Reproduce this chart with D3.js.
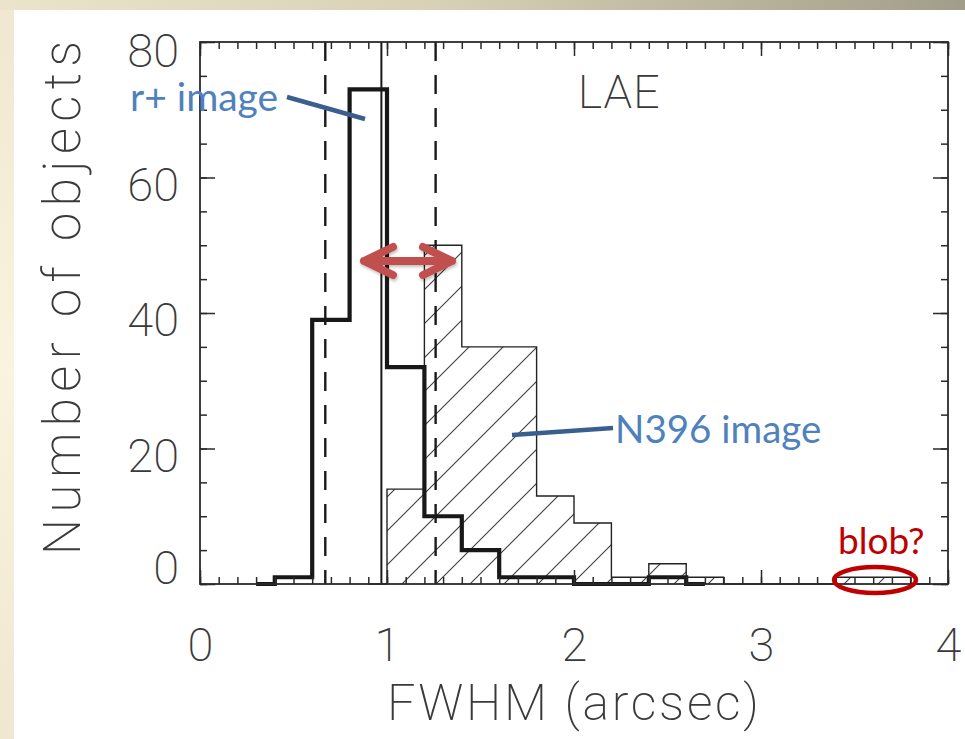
<!DOCTYPE html>
<html>
<head>
<meta charset="utf-8">
<script src="https://cdn.jsdelivr.net/npm/d3@7"></script>
<style>
  html, body { margin: 0; padding: 0; background: #fff; }
  svg { display: block; }
  .tick text { font-family: Roboto, "DejaVu Sans", sans-serif; font-weight: 200; fill: #3a3a3a; }
</style>
</head>
<body>
<svg id="chart" width="965" height="739"></svg>
<script>
// FWHM histograms of LAE candidates: broad-band r+ vs narrow-band N396
const rBinCenters = [0.3, 0.5, 0.7, 0.9, 1.1, 1.3, 1.5, 1.7, 1.9, 2.1, 2.3, 2.5, 2.7];
const rCounts     = [0,   1,   39,  73,  32,  10,  5,   1,   1,   0,   0,   1,   0];

const nBinCenters = [0.9, 1.1, 1.3, 1.5, 1.7, 1.9, 2.1, 2.3, 2.5, 2.7, 2.9, 3.1, 3.3, 3.5, 3.7, 3.9];
const nCounts     = [0,   14,  50,  35,  35,  13,  9,   1,   3,   1,   0,   0,   0,   1,   1,   0];

// reference lines: r+ median and its spread
const medianLine = [0.97];
const spreadLines = [0.67, 1.26];

const xMajor = [0, 1, 2, 3, 4];
const xMinor = d3.range(0, 41).map(i => i / 10);
const yMajor = [0, 20, 40, 60, 80];
const yMinor = d3.range(0, 81, 5);

const xTitle = "FWHM (arcsec)";
const yTitle = "Number of objects";
const panelLabel = "LAE";

const svg = d3.select("#chart");
const W = 965, H = 739;
const margin = { left: 200, right: 17, top: 42, bottom: 155 };

const x = d3.scaleLinear().domain([0, 4]).range([margin.left, W - margin.right]);
const y = d3.scaleLinear().domain([0, 80]).range([H - margin.bottom, margin.top]);

// ---- slide background ----
const defs = svg.append("defs");
const topGrad = defs.append("linearGradient").attr("id", "topBand").attr("x1", 0).attr("x2", 1).attr("y1", 0).attr("y2", 0);
topGrad.append("stop").attr("offset", 0).attr("stop-color", "#ece4ca");
topGrad.append("stop").attr("offset", 0.45).attr("stop-color", "#d9d1b6");
topGrad.append("stop").attr("offset", 1).attr("stop-color", "#a29d8a");
const leftGrad = defs.append("linearGradient").attr("id", "leftBand").attr("x1", 0).attr("x2", 0).attr("y1", 0).attr("y2", 1);
leftGrad.append("stop").attr("offset", 0).attr("stop-color", "#efe7cf");
leftGrad.append("stop").attr("offset", 0.5).attr("stop-color", "#faf3df");
leftGrad.append("stop").attr("offset", 1).attr("stop-color", "#efe7d0");

svg.append("rect").attr("width", W).attr("height", H).attr("fill", "#ffffff");
svg.append("rect").attr("x", 0).attr("y", 0).attr("width", 14).attr("height", H).attr("fill", "url(#leftBand)");
svg.append("rect").attr("x", 0).attr("y", 0).attr("width", W).attr("height", 10).attr("fill", "url(#topBand)");

// hatch pattern for the N396 histogram
const hs = 34;
const hatch = defs.append("pattern").attr("id", "hatch")
  .attr("patternUnits", "userSpaceOnUse").attr("width", hs).attr("height", hs);
hatch.append("path")
  .attr("d", `M0,${hs} L${hs},0 M-2,2 L2,-2 M${hs - 2},${hs + 2} L${hs + 2},${hs - 2}`)
  .attr("stroke", "#3c3c3c").attr("stroke-width", 1.1);

// ---- histograms ----
const nPts = nBinCenters.map((c, i) => [c, nCounts[i]]);
const rPts = rBinCenters.map((c, i) => [c, rCounts[i]]);

const stepArea = d3.area().curve(d3.curveStep)
  .x(d => x(d[0])).y0(y(0)).y1(d => y(d[1]));
const stepLine = d3.line().curve(d3.curveStep)
  .x(d => x(d[0])).y(d => y(d[1]));

svg.append("path").attr("d", stepArea(nPts)).attr("fill", "url(#hatch)");
svg.append("path").attr("d", stepLine(nPts))
  .attr("fill", "none").attr("stroke", "#222").attr("stroke-width", 1.4);

// vertical guides
svg.selectAll(".spread").data(spreadLines).join("line")
  .attr("x1", d => x(d)).attr("x2", d => x(d))
  .attr("y1", y(80)).attr("y2", y(0))
  .attr("stroke", "#1a1a1a").attr("stroke-width", 2.4)
  .attr("stroke-dasharray", "19,14");
svg.selectAll(".median").data(medianLine).join("line")
  .attr("x1", d => x(d)).attr("x2", d => x(d))
  .attr("y1", y(80)).attr("y2", y(0))
  .attr("stroke", "#1a1a1a").attr("stroke-width", 2);

svg.append("path").attr("d", stepLine(rPts))
  .attr("fill", "none").attr("stroke", "#181818").attr("stroke-width", 4.2)
  .attr("stroke-linejoin", "miter");

// ---- axes (ticks point inward on all four sides) ----
const axisColor = "#2a2a2a";
function styleAxis(g) {
  g.select(".domain").remove();
  g.selectAll(".tick line").attr("stroke", axisColor).attr("stroke-width", 1.5);
}

svg.append("g").attr("transform", `translate(0,${y(0)})`)
  .call(d3.axisBottom(x).tickValues(xMinor).tickSize(-7).tickFormat(""))
  .call(styleAxis);
const xAx = svg.append("g").attr("transform", `translate(0,${y(0)})`)
  .call(d3.axisBottom(x).tickValues(xMajor).tickSize(-14).tickPadding(44).tickFormat(d3.format("d")))
  .call(styleAxis);
xAx.selectAll(".tick text").attr("font-size", 47);

svg.append("g").attr("transform", `translate(0,${y(80)})`)
  .call(d3.axisTop(x).tickValues(xMinor).tickSize(-7).tickFormat(""))
  .call(styleAxis);
svg.append("g").attr("transform", `translate(0,${y(80)})`)
  .call(d3.axisTop(x).tickValues(xMajor).tickSize(-14).tickFormat(""))
  .call(styleAxis);

svg.append("g").attr("transform", `translate(${x(0)},0)`)
  .call(d3.axisLeft(y).tickValues(yMinor).tickSize(-7).tickFormat(""))
  .call(styleAxis);
const yAx = svg.append("g").attr("transform", `translate(${x(0)},0)`)
  .call(d3.axisLeft(y).tickValues(yMajor).tickSize(-15).tickPadding(21).tickFormat(d3.format("d")))
  .call(styleAxis);
yAx.selectAll(".tick text").attr("font-size", 47)
  .attr("dy", d => d === 80 ? "0.52em" : d === 0 ? "-0.02em" : "0.48em");

svg.append("g").attr("transform", `translate(${x(4)},0)`)
  .call(d3.axisRight(y).tickValues(yMinor).tickSize(-7).tickFormat(""))
  .call(styleAxis);
svg.append("g").attr("transform", `translate(${x(4)},0)`)
  .call(d3.axisRight(y).tickValues(yMajor).tickSize(-15).tickFormat(""))
  .call(styleAxis);

// plot frame
svg.append("rect")
  .attr("x", x(0)).attr("y", y(80))
  .attr("width", x(4) - x(0)).attr("height", y(0) - y(80))
  .attr("fill", "none").attr("stroke", axisColor).attr("stroke-width", 1.8);

// ---- titles ----
const thinFont = "Roboto, 'DejaVu Sans', sans-serif";
svg.append("text")
  .attr("x", (x(0) + x(4)) / 2 - 1).attr("y", 720)
  .attr("text-anchor", "middle")
  .attr("font-family", thinFont).attr("font-weight", 200)
  .attr("font-size", 50).attr("fill", "#3a3a3a")
  .attr("textLength", 372).attr("lengthAdjust", "spacing")
  .text(xTitle);

svg.append("text")
  .attr("transform", `translate(80,${(y(0) + y(80)) / 2 - 15}) rotate(-90)`)
  .attr("text-anchor", "middle")
  .attr("font-family", thinFont).attr("font-weight", 200)
  .attr("font-size", 51).attr("fill", "#3a3a3a")
  .attr("textLength", 514).attr("lengthAdjust", "spacing")
  .text(yTitle);

svg.append("text")
  .attr("x", x(2.02)).attr("y", y(70.3))
  .attr("font-family", thinFont).attr("font-weight", 200)
  .attr("font-size", 47).attr("fill", "#3a3a3a")
  .attr("textLength", 82).attr("lengthAdjust", "spacing")
  .text(panelLabel);

// ---- annotations ----
const blue = "#4f81bd", navy = "#3a5f8f", darkRed = "#c00000", arrowRed = "#c0504d";
const noteFont = "Lato, 'Open Sans', sans-serif";

svg.append("text").attr("x", 130).attr("y", 111)
  .attr("font-family", noteFont).attr("font-size", 39).attr("fill", blue)
  .text("r+ image");
svg.append("line").attr("x1", 287).attr("y1", 97).attr("x2", 365).attr("y2", 119)
  .attr("stroke", navy).attr("stroke-width", 4.5);

svg.append("text").attr("x", 615).attr("y", 443)
  .attr("font-family", noteFont).attr("font-size", 38.5).attr("fill", blue)
  .text("N396 image");
svg.append("line").attr("x1", 512).attr("y1", 435).attr("x2", 613).attr("y2", 428)
  .attr("stroke", navy).attr("stroke-width", 4.5);

svg.append("text").attr("x", 838).attr("y", 554)
  .attr("font-family", noteFont).attr("font-size", 37).attr("fill", darkRed)
  .text("blob?");
svg.append("ellipse").attr("cx", 875).attr("cy", 580).attr("rx", 41).attr("ry", 13)
  .attr("fill", "none").attr("stroke", darkRed).attr("stroke-width", 4.5);

// shift arrow between the two median sizes
const shadow = defs.append("filter").attr("id", "soft").attr("x", "-20%").attr("y", "-50%").attr("width", "140%").attr("height", "200%");
shadow.append("feDropShadow").attr("dx", 1).attr("dy", 2).attr("stdDeviation", 1.5)
  .attr("flood-color", "#000").attr("flood-opacity", 0.25);
const ay = 261, ax0 = 364, ax1 = 452;
svg.append("path")
  .attr("d", `M${ax0},${ay} L${ax1},${ay} M${ax0 + 29},${ay - 14} L${ax0},${ay} L${ax0 + 29},${ay + 14} M${ax1 - 29},${ay - 14} L${ax1},${ay} L${ax1 - 29},${ay + 14}`)
  .attr("fill", "none").attr("stroke", arrowRed).attr("stroke-width", 8)
  .attr("stroke-linecap", "round").attr("stroke-linejoin", "round")
  .attr("filter", "url(#soft)");
</script>
</body>
</html>
